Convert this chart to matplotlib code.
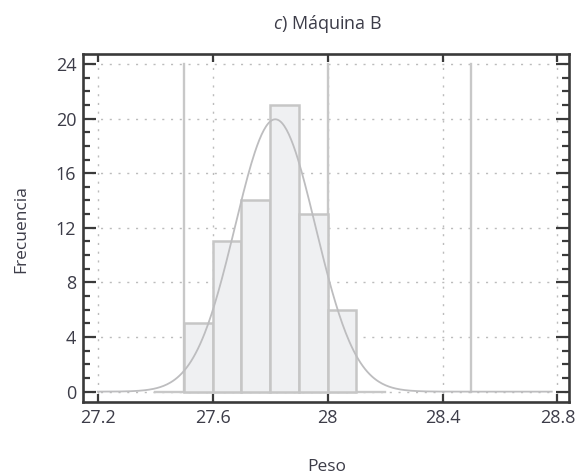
import numpy as np
import matplotlib
matplotlib.use("Agg")
import matplotlib.pyplot as plt
from matplotlib.ticker import MultipleLocator

plt.rcParams["font.family"] = ["Open Sans", "DejaVu Sans"]
plt.rcParams["mathtext.fontset"] = "custom"
plt.rcParams["mathtext.rm"] = "Open Sans"
plt.rcParams["mathtext.it"] = "Open Sans:italic"

# Histogram of weights (Máquina B)
bin_edges = [27.5, 27.6, 27.7, 27.8, 27.9, 28.0, 28.1]
counts = [5, 11, 14, 21, 13, 6]

# Specification limits and nominal value
spec_lines = [27.5, 28.0, 28.5]

# Fitted normal curve parameters
fit_mean = 27.818
fit_sd = 0.14
curve_range = [27.2, 28.78]
baseline_range = [27.4, 28.2]

x_ticks = [27.2, 27.6, 28.0, 28.4, 28.8]
x_tick_labels = ["27.2", "27.6", "28", "28.4", "28.8"]
y_ticks = [0, 4, 8, 12, 16, 20, 24]

text_color = "#3c3c48"
frame_color = "#3a3a3a"
bar_face = "#eff0f2"
bar_edge = "#c6c6c6"
line_gray = "#c8c8c8"

fig = plt.figure(figsize=(5.77, 4.74), dpi=100)
ax = fig.add_axes([0.1444, 0.1513, 0.8417, 0.7348])

ax.set_xlim(27.15, 28.84)
ax.set_ylim(-0.78, 24.73)

# grid
ax.set_xticks(x_ticks)
ax.set_xticklabels(x_tick_labels)
ax.set_yticks(y_ticks)
ax.yaxis.set_minor_locator(MultipleLocator(1))
ax.grid(True, which="major", color="#bcbcbc", linewidth=1.0,
        linestyle=(0, (1.5, 4.8)), zorder=0)
ax.set_axisbelow(True)

# vertical reference lines
for xv in spec_lines:
    ax.plot([xv, xv], [0, 24], color=line_gray, linewidth=1.7, zorder=1)

# baseline under the histogram
ax.plot(baseline_range, [0, 0], color=line_gray, linewidth=1.7, zorder=1)

# bars
widths = np.diff(bin_edges)
ax.bar(bin_edges[:-1], counts, width=widths, align="edge",
       color=bar_face, edgecolor=bar_edge, linewidth=1.8, zorder=2)

# fitted normal curve scaled to counts
n_total = sum(counts)
bw = widths[0]
xs = np.linspace(curve_range[0], curve_range[1], 400)
ys = n_total * bw / (fit_sd * np.sqrt(2 * np.pi)) * np.exp(-0.5 * ((xs - fit_mean) / fit_sd) ** 2)
ax.plot(xs, ys, color="#bdbdbf", linewidth=1.3, zorder=3)

# frame and ticks
for sp in ax.spines.values():
    sp.set_color(frame_color)
    sp.set_linewidth(1.9)
    sp.set_zorder(5)

ax.tick_params(axis="x", which="major", direction="in", length=5.8, width=1.6,
               color=frame_color, top=True, bottom=True, pad=5,
               labelsize=13, labelcolor=text_color)
ax.tick_params(axis="y", which="major", direction="in", length=9.4, width=1.6,
               color=frame_color, left=True, right=True, pad=5,
               labelsize=13, labelcolor=text_color)
ax.tick_params(axis="y", which="minor", direction="in", length=5.0, width=1.6,
               color=frame_color, left=True, right=True)

# labels
fig.text(0.568, 0.949, r"$\it{c}$) Máquina B", ha="center", va="center",
         fontsize=13, color=text_color)
fig.text(0.037, 0.517, "Frecuencia", rotation=90, ha="center", va="center",
         fontsize=12.5, color=text_color)
fig.text(0.566, 0.0154, "Peso", ha="center", va="center",
         fontsize=12.5, color=text_color)

fig.savefig("out.png", dpi=100)
